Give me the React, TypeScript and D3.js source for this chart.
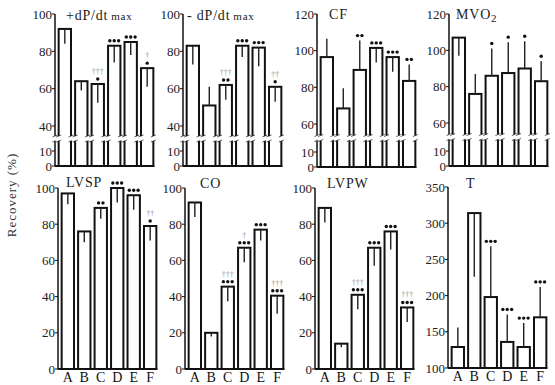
import React from 'react';
import * as d3 from 'd3';

const categories = ['A', 'B', 'C', 'D', 'E', 'F'];

// +dP/dt max
const dpPosValues = [92, 64, 62.5, 83, 85, 71];
const dpPosErrors = [-8, -5, -10, -9, -7, -10];
const dpPosDots = ['', '', '•', '•••', '•••', '•'];
const dpPosDaggers = ['', '', '†††', '', '', '†'];

// -dP/dt max
const dpNegValues = [83, 51, 62, 83, 82, 61];
const dpNegErrors = [-10, 10, -8, -6, -10, -8];
const dpNegDots = ['', '', '••', '•••', '•••', '•'];
const dpNegDaggers = ['', '', '†††', '', '', '††'];

// CF
const cfValues = [96.5, 68.5, 89.5, 101.5, 96.5, 83.5];
const cfErrors = [10, 11, 16, -8, -8, 9];
const cfDots = ['', '', '••', '•••', '•••', '••'];
const cfDaggers = ['', '', '', '', '', ''];

// MVO2
const mvoValues = [107, 76, 86, 87.5, 90, 83];
const mvoErrors = [-10, 11, 15, 17, 15, 11];
const mvoDots = ['', '', '•', '•', '•', '•'];
const mvoDaggers = ['', '', '', '', '', ''];

// LVSP
const lvspValues = [97, 76, 89, 100, 96, 79];
const lvspErrors = [-6, -6, -6, -8, -8, -8];
const lvspDots = ['', '', '••', '•••', '•••', '•'];
const lvspDaggers = ['', '', '', '', '', '††'];

// CO
const coValues = [92, 20, 45.5, 67, 77, 40.5];
const coErrors = [-8, -2, -8, -8, -6, -10];
const coDots = ['', '', '•••', '•••', '•••', '•••'];
const coDaggers = ['', '', '†††', '†', '', '†††'];

// LVPW
const lvpwValues = [89, 14, 41, 67, 76, 34];
const lvpwErrors = [-8, -2, -8, -10, -10, -8];
const lvpwDots = ['', '', '•••', '•••', '•••', '•••'];
const lvpwDaggers = ['', '', '†††', '', '', '†††'];

// T
const tValues = [129, 314, 198, 136, 129, 170];
const tErrors = [27, -88, 70, 38, 33, 42];
const tDots = ['', '', '•••', '•••', '•••', '•••'];
const tDaggers = ['', '', '', '', '', ''];

const ticksDp = [0, 10, 40, 60, 80, 100];
const ticksCf = [0, 10, 60, 80, 100, 120];
const ticksPct = [0, 20, 40, 60, 80, 100];
const ticksT = [100, 150, 200, 250, 300, 350];

type PanelCfg = {
  title: string;
  sub?: string;
  subScript?: boolean;
  values: number[];
  errors: number[];
  dots: string[];
  daggers: string[];
  axisX: number;
  domain: number[];
  range: number[];
  ticks: number[];
  brk?: number;
  showCats: boolean;
  titleX: number;
  titleY: number;
};

const panels: PanelCfg[] = [
  { title: '+dP/dt', sub: 'max', values: dpPosValues, errors: dpPosErrors, dots: dpPosDots, daggers: dpPosDaggers,
    axisX: 55, domain: [0, 10, 40, 100], range: [166, 151, 126, 14], ticks: ticksDp, brk: 25, showCats: false, titleX: 66, titleY: 20 },
  { title: '- dP/dt', sub: 'max', values: dpNegValues, errors: dpNegErrors, dots: dpNegDots, daggers: dpNegDaggers,
    axisX: 183, domain: [0, 10, 40, 100], range: [166, 151, 126, 14], ticks: ticksDp, brk: 25, showCats: false, titleX: 187, titleY: 20 },
  { title: 'CF', values: cfValues, errors: cfErrors, dots: cfDots, daggers: cfDaggers,
    axisX: 317, domain: [0, 10, 60, 120], range: [167, 152, 124, 14], ticks: ticksCf, brk: 35, showCats: false, titleX: 329, titleY: 19 },
  { title: 'MVO', sub: '2', subScript: true, values: mvoValues, errors: mvoErrors, dots: mvoDots, daggers: mvoDaggers,
    axisX: 449, domain: [0, 10, 60, 120], range: [166, 151, 123, 14], ticks: ticksCf, brk: 35, showCats: false, titleX: 456, titleY: 19 },
  { title: 'LVSP', values: lvspValues, errors: lvspErrors, dots: lvspDots, daggers: lvspDaggers,
    axisX: 58, domain: [0, 100], range: [369, 188], ticks: ticksPct, showCats: true, titleX: 66, titleY: 187 },
  { title: 'CO', values: coValues, errors: coErrors, dots: coDots, daggers: coDaggers,
    axisX: 185, domain: [0, 100], range: [369, 188], ticks: ticksPct, showCats: true, titleX: 200, titleY: 188 },
  { title: 'LVPW', values: lvpwValues, errors: lvpwErrors, dots: lvpwDots, daggers: lvpwDaggers,
    axisX: 315, domain: [0, 100], range: [369, 188], ticks: ticksPct, showCats: true, titleX: 327, titleY: 188 },
  { title: 'T', values: tValues, errors: tErrors, dots: tDots, daggers: tDaggers,
    axisX: 448, domain: [100, 350], range: [368, 187], ticks: ticksT, showCats: true, titleX: 466, titleY: 188 },
];

const FONT = '"Liberation Serif", "DejaVu Serif", serif';

function Panel({ p }: { p: PanelCfg }) {
  const y = d3.scaleLinear().domain(p.domain).range(p.range);
  const x = d3.scaleBand<string>().domain(categories).range([p.axisX + 2, p.axisX + 100]).paddingInner(0.25).paddingOuter(0.1);
  const bw = x.bandwidth();
  const base = y(p.domain[0]);
  const top = y(p.domain[p.domain.length - 1]);
  const lastX = (x(categories[categories.length - 1]) as number) + bw;
  const yb = p.brk !== undefined ? y(p.brk) : null;
  const breakXs: number[] = [p.axisX];
  categories.forEach((c) => { breakXs.push(x(c) as number, (x(c) as number) + bw); });

  return (
    <g>
      {/* axis */}
      <line x1={p.axisX} x2={p.axisX} y1={top} y2={base} stroke="#111" strokeWidth={1.5} />
      <line x1={p.axisX} x2={lastX + 1} y1={base} y2={base} stroke="#111" strokeWidth={1.8} />
      {p.ticks.map((t) => (
        <g key={t}>
          <line x1={p.axisX - 3} x2={p.axisX} y1={y(t)} y2={y(t)} stroke="#111" strokeWidth={1} />
          <text x={p.axisX - 3} y={y(t) + 4.5} textAnchor="end" fontSize={13} fontFamily={FONT} fill="#222">{t}</text>
        </g>
      ))}
      {/* bars */}
      {categories.map((c, i) => {
        const v = p.values[i];
        const e = p.errors[i];
        const bx = x(c) as number;
        const cx = bx + bw / 2;
        const yTop = y(v);
        const yErr = y(v + e);
        const markTop = Math.min(yTop, yErr);
        const n = p.dots[i].length;
        return (
          <g key={c}>
            <rect x={bx} y={yTop} width={bw} height={base - yTop} fill="#fff" stroke="#111" strokeWidth={2} />
            <line x1={cx} x2={cx} y1={yTop} y2={yErr} stroke="#222" strokeWidth={1.4} />
            {Array.from({ length: n }).map((_, k) => (
              <circle key={k} cx={cx + (k - (n - 1) / 2) * 4.4} cy={markTop - 5} r={1.7} fill="#111" />
            ))}
            {p.daggers[i] && (
              <text x={cx} y={markTop - 10} textAnchor="middle" fontSize={8} fontFamily={FONT} fill="#999">{p.daggers[i]}</text>
            )}
            {p.showCats && (
              <text x={cx} y={base + 13} textAnchor="middle" fontSize={14} fontFamily={FONT} fill="#111">{c}</text>
            )}
          </g>
        );
      })}
      {/* axis breaks */}
      {yb !== null && breakXs.map((bx, k) => (
        <g key={k}>
          <rect x={bx - 3} y={yb - 2.5} width={6} height={5} fill="#fff" />
          <line x1={bx - 2.5} x2={bx + 2.5} y1={yb - 1.5} y2={yb - 3.5} stroke="#333" strokeWidth={0.8} />
          <line x1={bx - 2.5} x2={bx + 2.5} y1={yb + 3.5} y2={yb + 1.5} stroke="#333" strokeWidth={0.8} />
        </g>
      ))}
      {/* title */}
      <text x={p.titleX} y={p.titleY} fontSize={14} fontFamily={FONT} fill="#222" letterSpacing={0.8}>
        {p.title}
        {p.sub && (p.subScript
          ? <tspan fontSize={11} dy={3}>{p.sub}</tspan>
          : <tspan fontSize={11} dx={3}>{p.sub}</tspan>)}
      </text>
    </g>
  );
}

export default function App() {
  return (
    <svg width={555} height={385} style={{ position: 'absolute', left: 0, top: 0, background: '#fff' }}>
      <rect width={555} height={385} fill="#fff" />
      {panels.map((p, i) => <Panel key={i} p={p} />)}
      <text transform="translate(16,195) rotate(-90)" textAnchor="middle" fontSize={13} fontFamily={FONT} fill="#333" letterSpacing={1}>Recovery (%)</text>
    </svg>
  );
}
